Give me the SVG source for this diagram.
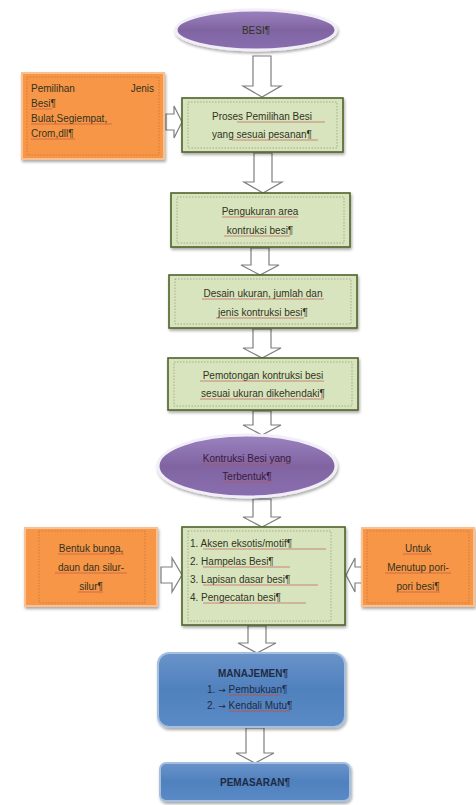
<svg xmlns="http://www.w3.org/2000/svg" width="476" height="805" viewBox="0 0 476 805">
<defs>
<linearGradient id="gPurple" x1="0" y1="0" x2="0" y2="1">
<stop offset="0" stop-color="#9B83C0"/><stop offset="0.5" stop-color="#8064A2"/><stop offset="1" stop-color="#8A6FB0"/>
</linearGradient>
<linearGradient id="gBlue" x1="0" y1="0" x2="0" y2="1">
<stop offset="0" stop-color="#6A93CA"/><stop offset="0.5" stop-color="#4F81BD"/><stop offset="1" stop-color="#5B8BC6"/>
</linearGradient>
<filter id="sh" x="-10%" y="-10%" width="130%" height="140%">
<feGaussianBlur in="SourceAlpha" stdDeviation="1.5"/><feOffset dx="1" dy="2"/>
<feComponentTransfer><feFuncA type="linear" slope="0.35"/></feComponentTransfer>
<feMerge><feMergeNode/><feMergeNode in="SourceGraphic"/></feMerge>
</filter>
</defs>
<style>
.t{font-family:"Liberation Sans",Arial,sans-serif;font-size:10px;fill:#33331f}
.tb{font-family:"Liberation Sans",Arial,sans-serif;font-size:10px;font-weight:bold;fill:#1F2A44}
.ar{font-family:"DejaVu Sans",sans-serif;font-size:9px}
.ell{fill:url(#gPurple);stroke:#F2EEF8;stroke-width:3}
.grn{fill:#D7E4BD;stroke:#4F6228;stroke-width:1.6}
.org{fill:#F79646;stroke:#FAC090;stroke-width:2}
.blu{fill:url(#gBlue);stroke:#A7BFDE;stroke-width:2}
.dash{fill:none;stroke:#8a8a6a;stroke-width:0.6;stroke-dasharray:1.5,1.5}
.dashO{fill:none;stroke:#C06A30;stroke-width:0.6;stroke-dasharray:1.5,1.5}
.arr{fill:#fff;stroke:#7F7F7F;stroke-width:1.2;stroke-linejoin:miter}
.ul{stroke:#C0504D;stroke-width:0.8;opacity:0.8}
</style>

<g id="connectors">
<path class="arr" d="M253,56 H271 V86 H281 L262,97 L243,86 H253 Z"/>
<path class="arr" d="M254,153 H272 V182 H282 L263,193 L244,182 H254 Z"/>
<path class="arr" d="M251,248 H269 V265 H279 L260,275 L241,265 H251 Z"/>
<path class="arr" d="M253,329 H271 V348 H281 L262,358 L243,348 H253 Z"/>
<path class="arr" d="M253,411 H271 V425 H281 L262,435 L243,425 H253 Z"/>
<path class="arr" d="M253,499 H271 V517 H281 L262,527 L243,517 H253 Z"/>
<path class="arr" d="M248,626 H266 V643 H276 L257,653 L238,643 H248 Z"/>
<path class="arr" d="M246,728 H264 V753 H274 L255,763 L236,753 H246 Z"/>
<path class="arr" d="M166,114 H174 V106 L182,122 L174,138 V130 H166 Z"/>
<path class="arr" d="M161,567 H172 V558 L182,575 L172,592 V583 H161 Z"/>
<path class="arr" d="M362,567 H355 V558 L346,575 L355,592 V583 H362 Z"/>
</g>

<g id="besi">
<ellipse class="ell" cx="256" cy="30" rx="80" ry="20" filter="url(#sh)"/>
<text class="t" x="256" y="34" text-anchor="middle">BESI¶</text>
</g>

<g id="pemilihan-jenis">
<rect class="org" x="22" y="73" width="142" height="86" filter="url(#sh)"/>
<rect class="dashO" x="27" y="77" width="132" height="78"/>
<text class="t" x="31" y="92">Pemilihan</text>
<text class="t" x="154" y="92" text-anchor="end">Jenis</text>
<text class="t" x="31" y="107">Besi¶</text>
<text class="t" x="31" y="122">Bulat,Segiempat,</text>
<text class="t" x="31" y="137">Crom,dll¶</text>
<line class="ul" x1="31" y1="109" x2="52" y2="109"/>
<line class="ul" x1="31" y1="124" x2="112" y2="124"/>
<line class="ul" x1="31" y1="139" x2="75" y2="139"/>
</g>

<g id="proses-pemilihan">
<rect class="grn" x="182" y="98" width="161" height="54" filter="url(#sh)"/>
<rect class="dash" x="188" y="102" width="149" height="46"/>
<text class="t" x="262" y="120" text-anchor="middle">Proses Pemilihan Besi</text>
<text class="t" x="262" y="138" text-anchor="middle">yang sesuai pesanan¶</text>
<line class="ul" x1="237" y1="122" x2="325" y2="122"/>
<line class="ul" x1="232" y1="140" x2="318" y2="140"/>
</g>

<g id="pengukuran">
<rect class="grn" x="171" y="193" width="179" height="54" filter="url(#sh)"/>
<rect class="dash" x="177" y="197" width="167" height="46"/>
<text class="t" x="260" y="215" text-anchor="middle">Pengukuran area</text>
<text class="t" x="260" y="234" text-anchor="middle">kontruksi besi¶</text>
<line class="ul" x1="222" y1="217" x2="298" y2="217"/>
<line class="ul" x1="224" y1="236" x2="290" y2="236"/>
</g>

<g id="desain">
<rect class="grn" x="169" y="275" width="188" height="53" filter="url(#sh)"/>
<rect class="dash" x="175" y="279" width="176" height="45"/>
<text class="t" x="263" y="297" text-anchor="middle">Desain ukuran, jumlah dan</text>
<text class="t" x="263" y="316" text-anchor="middle">jenis kontruksi besi¶</text>
<line class="ul" x1="202" y1="299" x2="324" y2="299"/>
<line class="ul" x1="216" y1="318" x2="304" y2="318"/>
</g>

<g id="pemotongan">
<rect class="grn" x="168" y="358" width="190" height="52" filter="url(#sh)"/>
<rect class="dash" x="174" y="362" width="178" height="44"/>
<text class="t" x="263" y="379" text-anchor="middle">Pemotongan kontruksi besi</text>
<text class="t" x="263" y="397" text-anchor="middle">sesuai ukuran dikehendaki¶</text>
<line class="ul" x1="200" y1="381" x2="324" y2="381"/>
<line class="ul" x1="200" y1="399" x2="324" y2="399"/>
</g>

<g id="kontruksi-terbentuk">
<ellipse class="ell" cx="247" cy="466" rx="89" ry="31" filter="url(#sh)"/>
<text class="t" x="247" y="462" text-anchor="middle" style="fill:#3a1a3a">Kontruksi Besi yang</text>
<text class="t" x="247" y="480" text-anchor="middle" style="fill:#3a1a3a">Terbentuk¶</text>
<line class="ul" x1="202" y1="464" x2="292" y2="464"/>
<line class="ul" x1="222" y1="482" x2="272" y2="482"/>
</g>

<g id="bentuk-bunga">
<rect class="org" x="25" y="528" width="132" height="78" filter="url(#sh)"/>
<rect class="dashO" x="39" y="531" width="106" height="72"/>
<text class="t" x="91" y="552" text-anchor="middle">Bentuk bunga,</text>
<text class="t" x="91" y="571" text-anchor="middle">daun dan silur-</text>
<text class="t" x="91" y="590" text-anchor="middle">silur¶</text>
<line class="ul" x1="58" y1="554" x2="124" y2="554"/>
<line class="ul" x1="55" y1="573" x2="127" y2="573"/>
<line class="ul" x1="78" y1="592" x2="103" y2="592"/>
</g>

<g id="tahapan">
<rect class="grn" x="182" y="527" width="163" height="98" filter="url(#sh)"/>
<rect class="dash" x="188" y="531" width="143" height="90"/>
<text class="t" x="190" y="547">1. Aksen eksotis/motif¶</text>
<text class="t" x="190" y="565">2. Hampelas Besi¶</text>
<text class="t" x="190" y="583">3. Lapisan dasar besi¶</text>
<text class="t" x="190" y="601">4. Pengecatan besi¶</text>
<line class="ul" x1="203" y1="549" x2="326" y2="549"/>
<line class="ul" x1="203" y1="567" x2="290" y2="567"/>
<line class="ul" x1="203" y1="585" x2="318" y2="585"/>
<line class="ul" x1="203" y1="603" x2="306" y2="603"/>
</g>

<g id="untuk-menutup">
<rect class="org" x="362" y="528" width="112" height="78" filter="url(#sh)"/>
<rect class="dashO" x="367" y="531" width="102" height="72"/>
<text class="t" x="418" y="552" text-anchor="middle">Untuk</text>
<text class="t" x="418" y="571" text-anchor="middle">Menutup pori-</text>
<text class="t" x="418" y="590" text-anchor="middle">pori besi¶</text>
<line class="ul" x1="403" y1="554" x2="432" y2="554"/>
<line class="ul" x1="385" y1="573" x2="451" y2="573"/>
<line class="ul" x1="396" y1="592" x2="440" y2="592"/>
</g>

<g id="manajemen">
<rect class="blu" x="158" y="653" width="187" height="74" rx="11" filter="url(#sh)"/>
<text class="tb" x="253" y="677" text-anchor="middle">MANAJEMEN¶</text>
<text class="t" x="207" y="693" style="fill:#1F2A44">1.<tspan class="ar"> → </tspan>Pembukuan¶</text>
<text class="t" x="207" y="709" style="fill:#1F2A44">2.<tspan class="ar"> → </tspan>Kendali Mutu¶</text>
<line x1="229" y1="695" x2="280" y2="695" stroke="#C0504D" stroke-width="0.9"/>
<line x1="229" y1="711" x2="290" y2="711" stroke="#C0504D" stroke-width="0.9"/>
</g>

<g id="pemasaran">
<rect class="blu" x="160" y="763" width="190" height="38" rx="6" filter="url(#sh)"/>
<text class="tb" x="255" y="786" text-anchor="middle">PEMASARAN¶</text>
</g>
</svg>
